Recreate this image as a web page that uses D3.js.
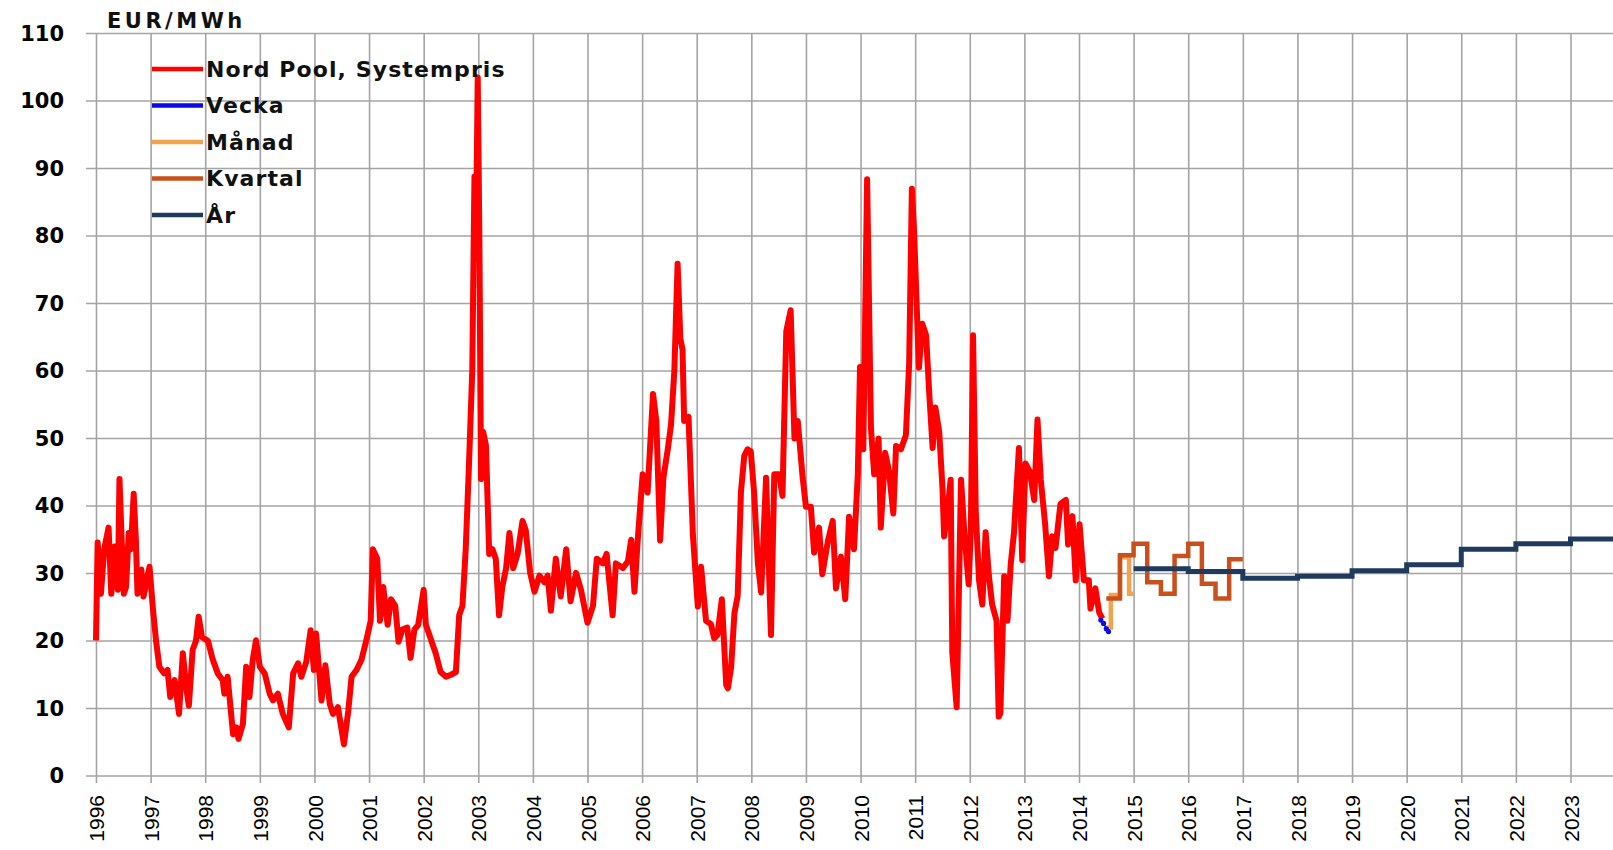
<!DOCTYPE html>
<html>
<head>
<meta charset="utf-8">
<script src="https://cdn.jsdelivr.net/npm/d3@7"></script>
<style>
  body { margin: 0; background: #fff; }
</style>
</head>
<body>
<script>
// x categories / ticks
const years = d3.range(1996, 2024);
const yTicks = d3.range(0, 111, 10);

// Nord Pool systempris, [decimal year, EUR/MWh]
const spot = [
  [1996.00,20.1],[1996.03,34.6],[1996.09,27],[1996.15,33.6],[1996.23,36.8],[1996.28,27],[1996.34,34],[1996.40,27.6],
  [1996.43,44],[1996.47,35],[1996.51,27],[1996.55,28],[1996.60,36],[1996.64,33.6],[1996.69,41.8],[1996.73,35],
  [1996.76,27],[1996.83,30.6],[1996.87,26.6],[1996.98,31],[1997.04,25],[1997.10,20],[1997.16,16.2],[1997.25,15.2],
  [1997.31,15.7],[1997.36,11.7],[1997.44,14.2],[1997.52,9.2],[1997.59,18.2],[1997.65,13.2],[1997.70,10.4],[1997.77,18.7],
  [1997.83,20],[1997.88,23.6],[1997.94,20.6],[1998.05,20],[1998.14,17.2],[1998.23,15.2],[1998.32,14.2],[1998.35,12.2],
  [1998.41,14.7],[1998.51,6.2],[1998.57,7.2],[1998.61,5.5],[1998.69,7.7],[1998.75,16.2],[1998.81,11.7],[1998.87,17.2],
  [1998.93,20.1],[1999.00,16.2],[1999.09,15.2],[1999.18,12.2],[1999.24,11.2],[1999.33,12.2],[1999.42,9.2],[1999.53,7.2],
  [1999.61,15.2],[1999.70,16.7],[1999.76,14.7],[1999.85,16.9],[1999.93,21.6],[1999.99,15.7],[2000.03,21.1],[2000.13,11.2],
  [2000.20,16.4],[2000.28,10.7],[2000.34,9.2],[2000.43,10.2],[2000.54,4.7],[2000.62,9.7],[2000.68,14.7],[2000.77,15.7],
  [2000.86,17.2],[2000.95,20.1],
  [2001.03,23],[2001.07,33.6],[2001.15,32.2],[2001.20,23],[2001.26,28],[2001.34,22.4],[2001.40,26.2],[2001.48,25.2],
  [2001.54,19.9],[2001.61,21.7],[2001.70,22],[2001.76,17.5],[2001.83,21.7],[2001.90,22.4],[2002.00,27.6],[2002.04,22.4],
  [2002.13,20.3],[2002.22,18.2],[2002.31,15.4],[2002.41,14.7],[2002.50,15],[2002.59,15.4],[2002.65,23.8],[2002.71,25.2],
  [2002.77,33.6],[2002.83,46.2],[2002.89,60.1],[2002.93,88.8],[2002.97,88.8],[2002.99,103.5],[2003.02,79.7],[2003.05,44],
  [2003.09,51],[2003.14,49],[2003.20,32.9],[2003.26,33.6],[2003.32,32.2],[2003.38,23.8],[2003.44,28],[2003.51,30.8],
  [2003.57,36],[2003.64,30.8],[2003.72,32.9],[2003.81,37.8],[2003.87,36.4],[2003.95,30.1],[2004.03,27.3],[2004.12,29.7],
  [2004.21,28.7],[2004.27,29.7],[2004.33,24.5],[2004.42,32.2],[2004.51,26.6],[2004.61,33.6],[2004.69,25.9],[2004.79,30.1],
  [2004.88,27.6],[2005.00,22.7],[2005.10,25.2],[2005.17,32.2],[2005.28,31.5],[2005.35,32.9],[2005.46,23.8],[2005.52,31.5],
  [2005.65,30.8],[2005.74,31.8],[2005.80,35],[2005.86,27.3],[2005.92,35],
  [2006.01,44.7],[2006.10,42],[2006.20,56.6],[2006.26,52.6],[2006.33,34.9],[2006.39,44.2],[2006.47,48.4],[2006.53,52.1],
  [2006.59,60],[2006.65,75.9],[2006.70,64.8],[2006.74,63.2],[2006.77,52.6],[2006.85,53.2],[2006.93,35.7],[2007.02,25.1],
  [2007.08,31],[2007.17,23],[2007.26,22.5],[2007.32,20.4],[2007.38,20.9],[2007.46,26.2],[2007.54,13.5],[2007.57,13],
  [2007.63,16.1],[2007.69,24.1],[2007.75,26.7],[2007.81,42.1],[2007.87,47.4],[2007.93,48.4],[2007.99,48.1],[2008.05,42.1],
  [2008.12,31.5],[2008.18,27.2],[2008.27,44.2],[2008.36,20.9],[2008.42,44.7],[2008.51,44.7],[2008.57,41.5],[2008.64,65.9],
  [2008.72,69],[2008.79,50],[2008.85,52.6],[2008.94,44.2],[2009.00,39.9],[2009.09,39.9],[2009.15,33.1],[2009.24,36.8],
  [2009.30,29.9],[2009.40,34.7],[2009.49,37.8],[2009.55,27.8],[2009.64,32.5],[2009.72,26.2],[2009.79,38.4],[2009.88,33.6],
  [2009.95,44.7],[2009.99,60.6],[2010.05,48.4],[2010.12,88.4],[2010.19,51.6],[2010.25,44.7],[2010.33,50],[2010.37,36.8],
  [2010.45,47.9],[2010.52,45.2],[2010.60,38.9],[2010.65,48.9],[2010.74,48.4],[2010.83,50.5],[2010.89,61.1],
  [2010.94,87],[2010.98,80.8],[2011.04,67],[2011.07,60.5],[2011.13,67],[2011.20,65.3],[2011.26,56.4],[2011.32,48.6],
  [2011.37,54.6],[2011.44,51],[2011.50,42.7],[2011.53,35.5],[2011.59,39.1],[2011.65,43.9],[2011.68,18.3],[2011.76,10.2],
  [2011.84,43.9],[2011.90,36.1],[2011.98,28.4],[2012.02,36.7],[2012.06,65.3],[2012.11,39.1],[2012.17,29],[2012.23,25.4],
  [2012.29,36.1],[2012.35,29.6],[2012.41,25.4],[2012.49,23],[2012.53,8.8],[2012.56,9.3],[2012.63,29.6],[2012.69,23],
  [2012.75,31.4],[2012.81,36.1],[2012.90,48.6],[2012.96,32],[2013.02,46.3],[2013.10,45.1],[2013.18,40.9],[2013.24,52.8],
  [2013.30,43.9],[2013.38,37.3],[2013.45,29.6],[2013.51,35.5],[2013.57,33.8],[2013.66,40.3],[2013.76,40.9],[2013.80,34.3],
  [2013.88,38.5],[2013.94,29],[2014.01,37.3],[2014.09,29],[2014.18,29],[2014.21,24.8],[2014.30,27.8],[2014.37,24.2],
  [2014.43,23.3]
];

// Vecka (weekly forwards)
const vecka = [[2014.40,23.1],[2014.45,22.6],[2014.50,21.8],[2014.54,21.4]];

// Månad (monthly forwards), step from start to next start
const manadStart = [2014.50, 2014.583, 2014.667, 2014.75, 2014.833, 2014.917];
const manadValue = [22.0, 26.8, 26.6, 32.4, 32.6, 27.0];
const manadEnd = 2015.0;

// Kvartal (quarterly forwards)
const kvartalStart = [2014.5, 2014.75, 2015.0, 2015.25, 2015.5, 2015.75, 2016.0, 2016.25, 2016.5, 2016.75];
const kvartalValue = [26.3, 32.7, 34.4, 28.7, 27.0, 32.6, 34.4, 28.5, 26.3, 32.1];
const kvartalEnd = 2017.0;

// År (yearly forwards)
const arStart = [2015, 2016, 2017, 2018, 2019, 2020, 2021, 2022, 2023];
const arValue = [30.7, 30.3, 29.3, 29.6, 30.4, 31.3, 33.6, 34.4, 35.1];
const arEnd = 2024;

const legendNames = ["Nord Pool, Systempris", "Vecka", "Månad", "Kvartal", "År"];
const legendColors = ["#ff0000", "#0a0ae6", "#f5a24e", "#c9501c", "#1f3a5c"];

const width = 1613, height = 850;
const x = d3.scaleLinear().domain([1996, 2023]).range([96, 1570.5]);
const y = d3.scaleLinear().domain([0, 110]).range([776, 33.5]);
const plotLeft = 86;
const font = "'DejaVu Sans', Verdana, sans-serif";

const svg = d3.select("body").append("svg")
  .attr("width", width).attr("height", height)
  .style("background", "#fff");

// horizontal gridlines
svg.append("g").selectAll("line").data(yTicks).join("line")
  .attr("x1", plotLeft).attr("x2", width)
  .attr("y1", d => y(d)).attr("y2", d => y(d))
  .attr("stroke", "#a4a4a4").attr("stroke-width", 1.6);

// vertical gridlines + ticks + rotated year labels
const xAxis = d3.axisBottom(x).tickValues(years).tickFormat(d3.format("d"))
  .tickSizeInner(7).tickSizeOuter(0);
const xg = svg.append("g").attr("transform", `translate(0,${y(0)})`).call(xAxis);
xg.select(".domain").remove();
xg.selectAll(".tick line").attr("y1", y(110) - y(0)).attr("stroke", "#a4a4a4").attr("stroke-width", 1.6);
xg.selectAll(".tick text")
  .attr("transform", "rotate(-90)")
  .attr("text-anchor", "end")
  .attr("x", -19).attr("y", 0).attr("dy", "0.36em")
  .attr("fill", "#000")
  .attr("font-family", "'Liberation Sans', Arial, sans-serif")
  .attr("font-size", "21px");

// y labels
const yAxis = d3.axisLeft(y).tickValues(yTicks).tickSize(0);
const yg = svg.append("g").attr("transform", "translate(64,0)").call(yAxis);
yg.select(".domain").remove();
yg.selectAll(".tick text")
  .attr("x", 0).attr("fill", "#000")
  .attr("font-family", font)
  .attr("font-weight", "bold").attr("font-size", "21px");

svg.append("text").attr("x", 107).attr("y", 28)
  .attr("font-family", font)
  .attr("font-weight", "bold").attr("font-size", "21px")
  .attr("letter-spacing", "3.5px")
  .attr("fill", "#111").text("EUR/MWh");

const line = d3.line().x(d => x(d[0])).y(d => y(d[1]));
const stepLine = d3.line().x(d => x(d[0])).y(d => y(d[1])).curve(d3.curveStepAfter);
const steps = (starts, values, end) =>
  starts.map((t, i) => [t, values[i]]).concat([[end, values[values.length - 1]]]);

const plot = svg.append("g");

plot.append("path").datum(steps(manadStart, manadValue, manadEnd))
  .attr("d", stepLine).attr("fill", "none")
  .attr("stroke", legendColors[2]).attr("stroke-width", 4.5);

plot.append("path").datum(steps(kvartalStart, kvartalValue, kvartalEnd))
  .attr("d", stepLine).attr("fill", "none")
  .attr("stroke", legendColors[3]).attr("stroke-width", 4.5);

plot.append("path").datum(steps(arStart, arValue, arEnd))
  .attr("d", stepLine).attr("fill", "none")
  .attr("stroke", legendColors[4]).attr("stroke-width", 5);

plot.append("path").datum(spot)
  .attr("d", line).attr("fill", "none")
  .attr("stroke", legendColors[0]).attr("stroke-width", 6)
  .attr("stroke-linejoin", "round");

plot.append("path").datum(vecka)
  .attr("d", line).attr("fill", "none")
  .attr("stroke", legendColors[1]).attr("stroke-width", 1.5);
plot.append("g").selectAll("circle").data(vecka).join("circle")
  .attr("cx", d => x(d[0])).attr("cy", d => y(d[1])).attr("r", 2.6)
  .attr("fill", legendColors[1]);

// legend
const legend = svg.append("g");
legendNames.forEach((name, i) => {
  const ly = 69 + i * 36.5;
  legend.append("line").attr("x1", 152).attr("x2", 203).attr("y1", ly).attr("y2", ly)
    .attr("stroke", legendColors[i]).attr("stroke-width", 4.5);
  legend.append("text").attr("x", 206).attr("y", ly).attr("dy", "0.36em")
    .attr("font-family", font)
    .attr("font-weight", "bold").attr("font-size", "22px")
    .attr("letter-spacing", "1.1px")
    .attr("fill", "#111").text(name);
});
</script>
</body>
</html>
